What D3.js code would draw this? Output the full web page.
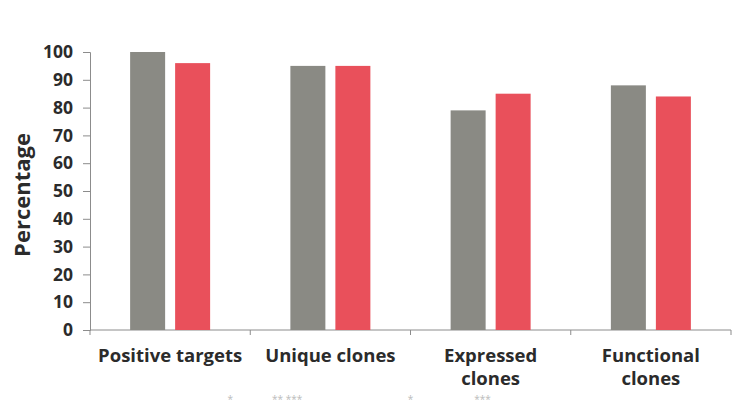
<!DOCTYPE html>
<html><head><meta charset="utf-8">
<script src="https://cdn.jsdelivr.net/npm/d3@7/dist/d3.min.js"></script>
<style>body{margin:0;background:#fff;} svg{display:block;}</style>
</head><body>
<script>
const categories = [["Positive targets"], ["Unique clones"], ["Expressed", "clones"], ["Functional", "clones"]];
const seriesNames = ["Series A", "Series B"];
const seriesA = [100, 95, 79, 88];
const seriesB = [96, 95, 85, 84];
const yTicks = [0, 10, 20, 30, 40, 50, 60, 70, 80, 90, 100];
const sigMarks = [{x: 0.875, t: "*"}, {x: 1.23, t: "** ***"}, {x: 2.0, t: "*"}, {x: 2.45, t: "***"}];

const W = 734, H = 408;
const m = {left: 90, right: 3, top: 52, bottom: 78};
const svg = d3.select("body").append("svg").attr("width", W).attr("height", H);
const font = "'Open Sans', sans-serif";

const x = d3.scaleBand().domain(d3.range(categories.length)).range([m.left, W - m.right]).paddingInner(0).paddingOuter(0);
const y = d3.scaleLinear().domain([0, 100]).range([H - m.bottom, m.top]);
const colors = ["#8a8a84", "#e9505b"];
const barW = 35, gap = 10;

// y axis
const yAxis = svg.append("g").attr("transform", `translate(${m.left},0)`)
  .call(d3.axisLeft(y).tickValues(yTicks).tickSize(7).tickPadding(10));
yAxis.select(".domain").attr("stroke", "#8c8c8c");
yAxis.selectAll(".tick line").attr("stroke", "#8c8c8c");
yAxis.selectAll("text").attr("font-family", font).attr("font-weight", 700).attr("font-size", 17.5).attr("fill", "#2b2b2b");

// x axis
const xAxis = svg.append("g").attr("transform", `translate(0,${H - m.bottom})`);
xAxis.append("line").attr("x1", m.left).attr("x2", W - m.right).attr("y1", 0).attr("y2", 0).attr("stroke", "#8c8c8c");
const bounds = d3.range(categories.length + 1).map(i => i < categories.length ? x(i) : x(categories.length - 1) + x.bandwidth());
xAxis.selectAll("line.tk").data(bounds).join("line").attr("class", "tk")
  .attr("x1", d => d).attr("x2", d => d).attr("y1", 0).attr("y2", 5).attr("stroke", "#8c8c8c");

// bars
const series = [seriesA, seriesB];
series.forEach((vals, si) => {
  svg.append("g").selectAll("rect").data(vals).join("rect")
    .attr("x", (d, i) => x(i) + x.bandwidth() / 2 - barW - gap / 2 + si * (barW + gap))
    .attr("y", d => y(d))
    .attr("width", barW)
    .attr("height", d => y(0) - y(d))
    .attr("fill", colors[si]);
});

// category labels
const lab = svg.append("g");
categories.forEach((lines, i) => {
  const t = lab.append("text").attr("x", x(i) + x.bandwidth() / 2).attr("y", H - m.bottom + 32)
    .attr("text-anchor", "middle").attr("font-family", font).attr("font-weight", 700)
    .attr("font-size", 18.5).attr("fill", "#2b2b2b");
  lines.forEach((l, k) => t.append("tspan").attr("x", x(i) + x.bandwidth() / 2).attr("dy", k === 0 ? 0 : 23).text(l));
});

// y label
svg.append("text").attr("transform", `translate(30,${(H - m.bottom + m.top) / 2 + 4}) rotate(-90)`)
  .attr("text-anchor", "middle").attr("font-family", font).attr("font-weight", 700)
  .attr("font-size", 22).attr("fill", "#2b2b2b").text("Percentage");

// faint significance marks at the bottom edge
svg.append("g").selectAll("text").data(sigMarks).join("text")
  .attr("x", d => x(0) + d.x * x.bandwidth()).attr("y", H - 5)
  .attr("text-anchor", "middle").attr("font-family", font).attr("font-size", 10)
  .attr("fill", "#bbbbbb").text(d => d.t);
</script>
</body></html>
